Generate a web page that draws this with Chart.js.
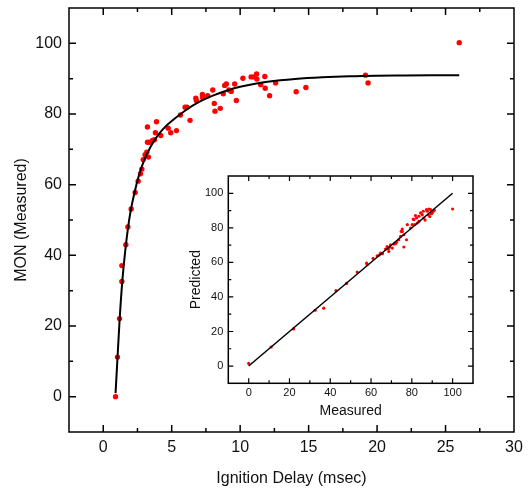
<!DOCTYPE html>
<html lang="en">
<head>
    <meta charset="UTF-8">
    <title>MON vs Ignition Delay</title>
    <style>
        body {
            margin: 0;
            padding: 0;
            background: #fff;
        }
        #wrap {
            position: relative;
            width: 531px;
            height: 493px;
        }
        #mainChart {
            position: absolute;
            left: 0;
            top: 0;
        }
        #insetChart {
            position: absolute;
            left: 170px;
            top: 170px;
        }
    </style>
</head>
<body>
    <div id="wrap">
        <canvas id="mainChart" width="531" height="493"></canvas>
        <canvas id="insetChart" width="310" height="260"></canvas>
    </div>
    <script src="https://cdn.jsdelivr.net/npm/chart.js@4.4.0/dist/chart.umd.min.js"></script>
    <script>
        // main plot: measured MON against ignition delay
        const delay = [0.9, 1.04, 1.19, 1.36, 1.36, 1.65, 1.8, 2.04, 2.33, 2.55, 2.72, 2.82, 2.92, 3.06, 3.18, 3.3,
            3.23, 3.38, 3.6, 3.74, 3.23, 3.81, 3.89, 4.2, 4.74, 4.93, 5.35, 5.64, 5.98, 6.12, 6.34, 6.76, 6.8,
            7.24, 7.26, 7.63, 8.0, 8.11, 8.16, 8.55, 8.77, 8.87, 8.99, 9.18, 9.35, 9.6, 9.72, 10.2, 10.8, 11.0,
            11.2, 11.22, 11.5, 11.8, 11.83, 12.15, 12.59, 14.09, 14.8, 19.15, 19.34, 26.0];
        const mon = [0, 11.2, 22.1, 32.6, 37.1, 43.0, 48.0, 53.1, 57.8, 61.0, 63.1, 64.4, 67.1, 68.5, 69.2, 67.8,
            72.0, 72.0, 72.5, 72.7, 76.3, 74.7, 77.8, 73.9, 76.0, 74.7, 75.3, 79.7, 81.9, 81.9, 78.2, 84.5, 83.8,
            85.5, 84.7, 85.2, 86.8, 83.0, 80.8, 81.6, 85.7, 88.1, 88.5, 86.8, 86.4, 88.5, 83.8, 90.1, 90.5, 90.5,
            91.3, 89.9, 88.3, 90.6, 87.3, 85.2, 88.8, 86.3, 87.5, 91.0, 88.8, 100.2];

        // fitted curve
        const curveX = [0.9, 1.0, 1.2, 1.4, 1.6, 1.8, 2.0, 2.3, 2.6, 3.0, 3.5, 4, 4.5, 5, 6, 7, 8, 9, 10, 11, 12,
            14, 16, 18, 20, 22, 24, 26];
        const curveY = [1, 8, 22, 33, 41, 47.5, 52.5, 58, 62.5, 67, 71, 74, 76.3, 78, 81, 83.4, 85.2, 86.6, 87.7,
            88.5, 89.1, 89.9, 90.4, 90.7, 90.85, 90.9, 90.95, 91];

        // inset: predicted vs measured
        const measured = [0, 11, 22, 32.6, 36.8, 42.8, 48, 53.2, 57.8, 58.1, 61, 63, 64, 64.7, 65.6, 67.1, 67.9,
            68.5, 68.7, 69.2, 69.6, 70.4, 71.2, 72, 72.5, 73.6, 74.5, 74.8, 75.3, 75.3, 76.1, 76.1, 77.4, 77.8,
            79.4, 80.2, 80.7, 81, 81.5, 81.8, 82.3, 82.7, 83.5, 83.5, 84.3, 85.1, 85.6, 85.9, 86.5, 87.2, 87.6,
            88.1, 88.4, 88.8, 89.2, 89.6, 90, 90.5, 91, 100];
        const predicted = [1.5, 11, 21.5, 32.3, 33.5, 43.7, 47.8, 54.4, 59.6, 58.8, 62.3, 63.8, 64.2, 65.4, 65,
            67.7, 69.2, 67.8, 66.3, 68.9, 70.2, 68.3, 70.6, 70.8, 71.6, 73.1, 75, 77.9, 79.3, 77.9, 76, 68.9, 73.1,
            81.8, 79.9, 81.8, 85.1, 84.7, 81.8, 87.1, 85.7, 82.8, 83.7, 86.7, 88.6, 87.6, 89.6, 85.7, 84.5, 90.5,
            89.6, 87.5, 90.9, 86.5, 90.5, 88.2, 88.6, 89.6, 90.2, 90.9];
        const parityLine = [0, 100];

        // tick labels
        const mainXTicks = [0, 5, 10, 15, 20, 25, 30];
        const mainYTicks = [0, 20, 40, 60, 80, 100];
        const insetTicks = [0, 20, 40, 60, 80, 100];

        const fontFamily = 'Arial, "Liberation Sans", sans-serif';
        const textColor = '#111';

        function points(xs, ys) {
            return xs.map((x, i) => ({ x: x, y: ys[i] }));
        }

        function fixedTicks(values) {
            return function (scale) {
                scale.ticks = values.map(v => ({ value: v }));
            };
        }

        // pin the axis box size and drop the label overflow padding
        function fitTo(size) {
            return function (s) {
                if (s.isHorizontal()) s.height = size; else s.width = size;
                s.paddingTop = 0;
                s.paddingBottom = 0;
                s.paddingLeft = 0;
                s.paddingRight = 0;
            };
        }

        // box frame with inward ticks on all four sides
        const frameTicks = {
            id: 'frameTicks',
            afterDraw(chart, args, opts) {
                const ctx = chart.ctx;
                const a = chart.chartArea;
                const xs = chart.scales.x;
                const ys = chart.scales.y;
                ctx.save();
                ctx.strokeStyle = '#000';
                ctx.lineWidth = opts.lineWidth;
                ctx.strokeRect(a.left, a.top, a.right - a.left, a.bottom - a.top);

                ctx.lineWidth = opts.tickWidth;
                ctx.beginPath();
                const drawX = (v, len) => {
                    const px = xs.getPixelForValue(v);
                    ctx.moveTo(px, a.bottom); ctx.lineTo(px, a.bottom - len);
                    ctx.moveTo(px, a.top); ctx.lineTo(px, a.top + len);
                };
                const drawY = (v, len) => {
                    const py = ys.getPixelForValue(v);
                    ctx.moveTo(a.left, py); ctx.lineTo(a.left + len, py);
                    ctx.moveTo(a.right, py); ctx.lineTo(a.right - len, py);
                };
                for (let v = xs.min; v <= xs.max + 1e-9; v += opts.xMinor) {
                    const major = xs.ticks.some(t => Math.abs(t.value - v) < 1e-6);
                    if (v > xs.min + 1e-6 && v < xs.max - 1e-6) drawX(v, major ? opts.majorLen : opts.minorLen);
                }
                for (let v = ys.min; v <= ys.max + 1e-9; v += opts.yMinor) {
                    const major = ys.ticks.some(t => Math.abs(t.value - v) < 1e-6);
                    if (v > ys.min + 1e-6 && v < ys.max - 1e-6) drawY(v, major ? opts.majorLen : opts.minorLen);
                }
                ctx.stroke();
                ctx.restore();
            }
        };

        new Chart(document.getElementById('mainChart'), {
            type: 'scatter',
            data: {
                datasets: [{
                    label: 'Fit',
                    data: points(curveX, curveY),
                    showLine: true,
                    borderColor: '#000',
                    borderWidth: 2,
                    pointRadius: 0,
                    cubicInterpolationMode: 'monotone'
                }, {
                    label: 'MON',
                    data: points(delay, mon),
                    backgroundColor: '#ff0000',
                    borderWidth: 0,
                    pointRadius: 2.7
                }]
            },
            options: {
                responsive: false,
                animation: false,
                layout: { padding: { left: 0, right: 17, top: 8, bottom: 0 } },
                plugins: {
                    legend: { display: false },
                    tooltip: { enabled: false },
                    frameTicks: { lineWidth: 1.5, tickWidth: 1.5, majorLen: 7, minorLen: 4, xMinor: 2.5, yMinor: 10 }
                },
                scales: {
                    x: {
                        type: 'linear',
                        min: -2.5,
                        max: 30,
                        afterBuildTicks: fixedTicks(mainXTicks),
                        afterFit: fitTo(61),
                        grid: { display: false, drawTicks: false },
                        border: { display: false },
                        ticks: { padding: 6, color: textColor, font: { family: fontFamily, size: 16 } },
                        title: {
                            display: true,
                            text: 'Ignition Delay (msec)',
                            color: textColor,
                            padding: { top: 0, bottom: 5 },
                            font: { family: fontFamily, size: 16 }
                        }
                    },
                    y: {
                        type: 'linear',
                        min: -10,
                        max: 110,
                        afterBuildTicks: fixedTicks(mainYTicks),
                        afterFit: fitTo(69),
                        grid: { display: false, drawTicks: false },
                        border: { display: false },
                        ticks: { padding: 7, color: textColor, font: { family: fontFamily, size: 16 } },
                        title: {
                            display: true,
                            text: 'MON (Measured)',
                            color: textColor,
                            padding: { top: 12, bottom: 0 },
                            font: { family: fontFamily, size: 16 }
                        }
                    }
                }
            },
            plugins: [frameTicks]
        });

        new Chart(document.getElementById('insetChart'), {
            type: 'scatter',
            data: {
                datasets: [{
                    label: 'Parity',
                    data: points(parityLine, parityLine),
                    showLine: true,
                    borderColor: '#000',
                    borderWidth: 1.5,
                    pointRadius: 0
                }, {
                    label: 'Predicted',
                    data: points(measured, predicted),
                    backgroundColor: '#ff0000',
                    borderWidth: 0,
                    pointRadius: 1.6
                }]
            },
            options: {
                responsive: false,
                animation: false,
                layout: { padding: { left: 0, right: 7, top: 6, bottom: 0 } },
                plugins: {
                    legend: { display: false },
                    tooltip: { enabled: false },
                    frameTicks: { lineWidth: 1.5, tickWidth: 1.2, majorLen: 5, minorLen: 3, xMinor: 10, yMinor: 10 }
                },
                scales: {
                    x: {
                        type: 'linear',
                        min: -10,
                        max: 110,
                        afterBuildTicks: fixedTicks(insetTicks),
                        afterFit: fitTo(46.7),
                        grid: { display: false, drawTicks: false },
                        border: { display: false },
                        ticks: { padding: 3, color: textColor, font: { family: fontFamily, size: 11 } },
                        title: {
                            display: true,
                            text: 'Measured',
                            color: textColor,
                            padding: { top: 0, bottom: 10 },
                            font: { family: fontFamily, size: 14 }
                        }
                    },
                    y: {
                        type: 'linear',
                        min: -10,
                        max: 110,
                        afterBuildTicks: fixedTicks(insetTicks),
                        afterFit: fitTo(58.3),
                        grid: { display: false, drawTicks: false },
                        border: { display: false },
                        ticks: { padding: 5, color: textColor, font: { family: fontFamily, size: 11 } },
                        title: {
                            display: true,
                            text: 'Predicted',
                            color: textColor,
                            padding: { top: 18, bottom: 0 },
                            font: { family: fontFamily, size: 14 }
                        }
                    }
                }
            },
            plugins: [frameTicks]
        });
    </script>
</body>
</html>
